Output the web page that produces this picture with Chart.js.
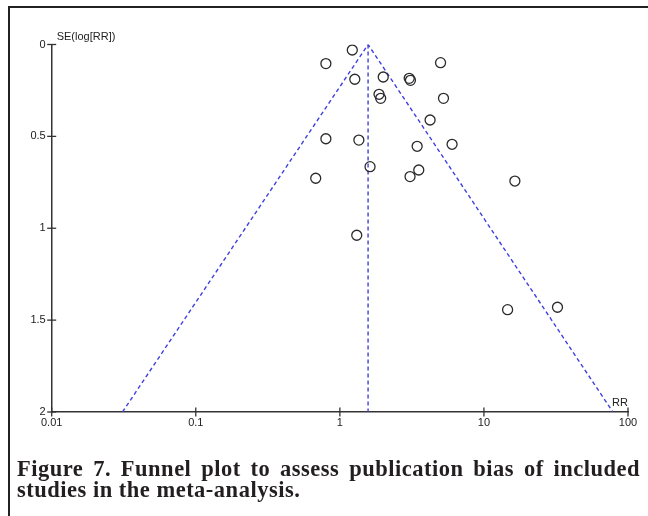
<!DOCTYPE html>
<html>
<head>
<meta charset="utf-8">
<script src="https://cdn.jsdelivr.net/npm/chart.js@4"></script>
<style>
  html, body { margin: 0; padding: 0; background: #fff; }
  #wrap { position: relative; width: 648px; height: 516px; overflow: hidden; }
  #frame { position: absolute; left: 8px; top: 6px; width: 700px; height: 600px;
           border-left: 2px solid #222; border-top: 2px solid #222; box-sizing: border-box; }
  canvas { position: absolute; left: 0; top: 0; }
  .cap { position: absolute; left: 17px; width: 623px; font-family: "Liberation Serif", serif;
         font-weight: bold; font-size: 22.5px; letter-spacing: 0.5px; color: #231f20; white-space: nowrap; line-height: 24px; }
  #cap1 { top: 457px; text-align: justify; text-align-last: justify; white-space: normal; }
  #cap2 { top: 478px; }
</style>
</head>
<body>
<div id="wrap">
  <div id="frame"></div>
  <canvas id="c" width="648" height="516"></canvas>
  <div class="cap" id="cap1">Figure 7. Funnel plot to assess publication bias of included</div>
  <div class="cap" id="cap2">studies in the meta-analysis.</div>
</div>
<script>
// Study estimates: risk ratio (x) and standard error of log RR (y)
const studyRR = [1.22, 0.80, 5.0, 1.27, 2.0, 3.03, 3.09, 1.87, 1.92, 5.24, 4.23,
                 0.80, 1.355, 3.44, 6.01, 1.62, 0.68, 3.53, 3.07, 16.4, 1.31, 14.6, 32.4];
const studySE = [0.030, 0.104, 0.099, 0.189, 0.177, 0.184, 0.195, 0.271, 0.293, 0.293, 0.411,
                 0.513, 0.520, 0.554, 0.543, 0.665, 0.728, 0.683, 0.719, 0.743, 1.038, 1.443, 1.430];
// Pooled estimate line and funnel (95% limits)
const pooledX = [1.57, 1.57];
const pooledY = [0, 2];
const funnelX = [0.031, 1.57, 78.5];
const funnelY = [2, 0, 2];
const xTicks = [0.01, 0.1, 1, 10, 100];
const yTicks = [0, 0.5, 1, 1.5, 2];

const axisColor = '#333333';
const blue = '#3f3fe0';

const crossTicks = {
  id: 'crossTicks',
  afterDraw(chart) {
    const ctx = chart.ctx;
    const xs = chart.scales.x, ys = chart.scales.y;
    const a = chart.chartArea;
    ctx.save();
    ctx.strokeStyle = axisColor;
    ctx.lineWidth = 1.3;
    xTicks.forEach(v => {
      const px = xs.getPixelForValue(v);
      ctx.beginPath(); ctx.moveTo(px, a.bottom - 4.5); ctx.lineTo(px, a.bottom + 4.5); ctx.stroke();
    });
    yTicks.forEach(v => {
      const py = ys.getPixelForValue(v);
      ctx.beginPath(); ctx.moveTo(a.left - 4.5, py); ctx.lineTo(a.left + 4.5, py); ctx.stroke();
    });
    ctx.fillStyle = '#222';
    ctx.font = '11px "Liberation Sans", Arial, sans-serif';
    ctx.textAlign = 'left';
    ctx.textBaseline = 'alphabetic';
    ctx.fillText('SE(log[RR])', a.left + 5, a.top - 5);
    ctx.textAlign = 'right';
    ctx.fillText('RR', a.right, a.bottom - 6);
    ctx.restore();
  }
};

new Chart(document.getElementById('c'), {
  type: 'scatter',
  data: {
    datasets: [
      {
        label: 'Studies',
        data: studyRR.map((v, i) => ({ x: v, y: studySE[i] })),
        pointStyle: 'circle',
        pointRadius: 5,
        pointHoverRadius: 5,
        pointBorderWidth: 1.3,
        pointBorderColor: '#2b2b2b',
        pointBackgroundColor: 'rgba(0,0,0,0)',
        showLine: false,
        order: 0
      },
      {
        label: 'Pooled',
        data: pooledX.map((v, i) => ({ x: v, y: pooledY[i] })),
        showLine: true,
        borderColor: blue,
        borderWidth: 1.4,
        borderDash: [4, 3],
        pointRadius: 0,
        order: 1
      },
      {
        label: 'Funnel',
        data: funnelX.map((v, i) => ({ x: v, y: funnelY[i] })),
        showLine: true,
        borderColor: blue,
        borderWidth: 1.4,
        borderDash: [4, 3],
        pointRadius: 0,
        order: 1
      }
    ]
  },
  options: {
    responsive: false,
    animation: false,
    devicePixelRatio: 1,
    layout: { padding: { top: 44.5, right: 20, left: 0, bottom: 0 } },
    plugins: { legend: { display: false }, tooltip: { enabled: false } },
    scales: {
      x: {
        type: 'logarithmic',
        min: 0.01, max: 100,
        afterBuildTicks(scale) { scale.ticks = xTicks.map(v => ({ value: v })); },
        afterFit(scale) { scale.height = 104; },
        grid: { display: false, drawTicks: false },
        border: { display: true, color: axisColor, width: 1.5 },
        ticks: {
          autoSkip: false, maxRotation: 0, padding: 4,
          color: '#222',
          font: { family: '"Liberation Sans", Arial, sans-serif', size: 11 },
          callback: (v) => String(v)
        }
      },
      y: {
        type: 'linear',
        reverse: true,
        min: 0, max: 2,
        afterBuildTicks(scale) { scale.ticks = yTicks.map(v => ({ value: v })); },
        afterFit(scale) { scale.width = 51.7; },
        grid: { display: false, drawTicks: false },
        border: { display: true, color: axisColor, width: 1.5 },
        ticks: {
          padding: 6,
          color: '#222',
          font: { family: '"Liberation Sans", Arial, sans-serif', size: 11 },
          callback: (v) => String(v)
        }
      }
    }
  },
  plugins: [crossTicks]
});
</script>
</body>
</html>
